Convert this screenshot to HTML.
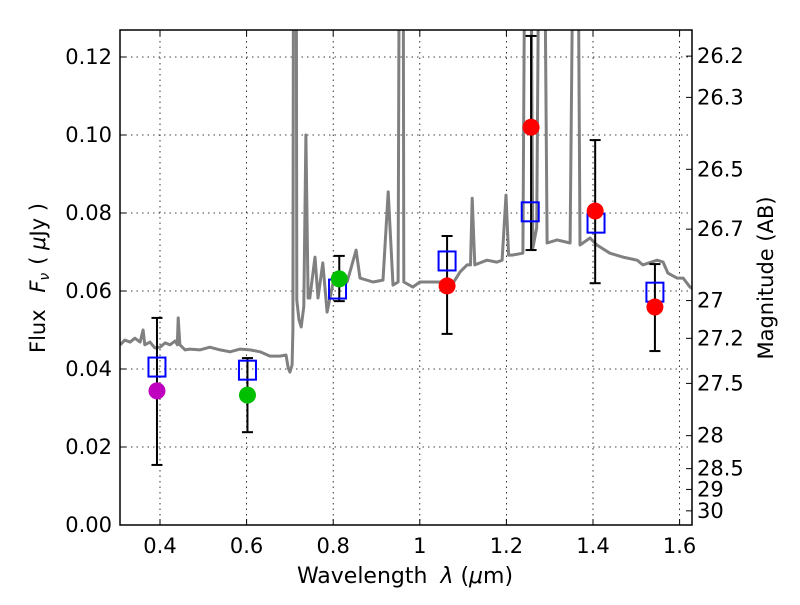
<!DOCTYPE html>
<html><head><meta charset="utf-8"><style>
html,body{margin:0;padding:0;background:#fff;}
svg text{font-family:"DejaVu Sans","Liberation Sans",sans-serif;fill:#000;}
</style></head><body>
<svg id="chart" width="800" height="600" xmlns="http://www.w3.org/2000/svg">
<defs><clipPath id="clip"><rect x="120" y="30" width="572" height="495"/></clipPath></defs>
<rect x="0" y="0" width="800" height="600" fill="#fff"/>
<g id="grid"></g>
<g id="spec" clip-path="url(#clip)"></g>
<g id="marks"></g>
<rect x="120" y="30" width="572" height="495" fill="none" stroke="#000" stroke-width="1.5"/>
<g id="axes"></g>
<text x="405" y="583" font-size="22" text-anchor="middle">Wavelength  <tspan font-style="italic" dx="6">λ</tspan> (<tspan font-style="italic">μ</tspan>m)</text>
<text transform="translate(45,278) rotate(-90)" font-size="21" text-anchor="middle">Flux <tspan font-style="italic" dx="10">F</tspan><tspan font-style="italic" font-size="14" dy="4">ν</tspan><tspan dy="-4" dx="8">(  </tspan><tspan font-style="italic">μ</tspan>Jy )</text>
<text transform="translate(773,278) rotate(-90)" font-size="21" text-anchor="middle">Magnitude (AB)</text>
</svg>
<script>
const specLam=[0.308,0.319,0.331,0.342,0.354,0.361,0.365,0.377,0.388,0.400,0.412,0.423,0.435,0.440,0.442,0.446,0.458,0.469,0.492,0.515,0.539,0.562,0.585,0.608,0.631,0.654,0.677,0.691,0.696,0.700,0.705,0.707,0.709,0.714,0.716,0.721,0.726,0.732,0.737,0.742,0.746,0.758,0.765,0.776,0.786,0.800,0.832,0.853,0.862,0.892,0.915,0.927,0.938,0.950,0.954,0.961,0.963,0.984,1.000,1.024,1.047,1.074,1.093,1.109,1.117,1.121,1.127,1.139,1.155,1.178,1.190,1.199,1.205,1.213,1.238,1.245,1.254,1.261,1.270,1.278,1.285,1.294,1.317,1.347,1.358,1.363,1.370,1.393,1.409,1.439,1.469,1.502,1.515,1.548,1.562,1.573,1.594,1.608,1.624,1.640];
const specFlux=[0.0462,0.0474,0.0469,0.0479,0.0469,0.0500,0.0462,0.0469,0.0454,0.0456,0.0467,0.0462,0.0472,0.0462,0.0531,0.0462,0.0449,0.0451,0.0449,0.0456,0.0449,0.0444,0.0451,0.0449,0.0444,0.0433,0.0433,0.0436,0.0403,0.0392,0.0410,0.0500,0.2,0.2,0.0577,0.0526,0.0508,0.0560,0.1000,0.0582,0.0582,0.0687,0.0582,0.0672,0.0546,0.0623,0.0623,0.0705,0.0633,0.0623,0.0628,0.0854,0.0615,0.0623,0.2,0.2,0.0623,0.0610,0.0623,0.0623,0.0623,0.0615,0.0649,0.0667,0.0667,0.0838,0.0667,0.0672,0.0679,0.0674,0.0679,0.0846,0.0692,0.0692,0.0697,0.2,0.2,0.0710,0.0762,0.2,0.2,0.0723,0.0731,0.0723,0.2,0.2,0.0718,0.0736,0.0718,0.0697,0.0687,0.0679,0.0667,0.0679,0.0674,0.0646,0.0633,0.0633,0.0610,0.0600];
const modelLam=[0.393,0.602,0.810,1.063,1.255,1.407,1.543];
const modelFlux=[0.0405,0.0397,0.0605,0.0677,0.0803,0.0774,0.0597];
const obsLam=[0.393,0.602,0.814,1.063,1.257,1.405,1.543];
const obsFlux=[0.0344,0.0333,0.0631,0.0613,0.1020,0.0805,0.0559];
const errHi=[0.0531,0.0428,0.0690,0.0741,0.1254,0.0987,0.0669];
const errLo=[0.0154,0.0238,0.0574,0.0490,0.0705,0.0620,0.0446];
const obsColor=['#bf00bf','#00bf00','#00bf00','#ff0000','#ff0000','#ff0000','#ff0000'];
const xTicks=[0.4,0.6,0.8,1.0,1.2,1.4,1.6];
const xTickLabels=['0.4','0.6','0.8','1','1.2','1.4','1.6'];
const yTicks=[0,0.02,0.04,0.06,0.08,0.10,0.12];
const yTickLabels=['0.00','0.02','0.04','0.06','0.08','0.10','0.12'];
const magTicks=[26.2,26.3,26.5,26.7,27,27.2,27.5,28,28.5,29,30];
const magLabels=['26.2','26.3','26.5','26.7','27','27.2','27.5','28','28.5','29','30'];
const NS='http://www.w3.org/2000/svg';
const X=l=>160+(l-0.4)*433;
const Y=f=>525-f*3900;
function mk(parent,tag,attrs){const e=document.createElementNS(NS,tag);for(const k in attrs)e.setAttribute(k,attrs[k]);document.getElementById(parent).appendChild(e);return e;}
xTicks.forEach((t,i)=>{
  const g=mk('grid','line',{x1:X(t),x2:X(t),y1:30,y2:525,stroke:'#000','stroke-width':0.8,'stroke-dasharray':'1.5,4'});
  
  
  mk('axes','line',{x1:X(t),x2:X(t),y1:525,y2:519,stroke:'#000','stroke-width':1});
  mk('axes','line',{x1:X(t),x2:X(t),y1:30,y2:36,stroke:'#000','stroke-width':1});
  const tx=mk('axes','text',{x:X(t),y:553,'font-size':21,'text-anchor':'middle'});
  tx.textContent=xTickLabels[i];
  
  
});
yTicks.forEach((t,i)=>{
  const g=mk('grid','line',{x1:120,x2:692,y1:Y(t),y2:Y(t),stroke:'#000','stroke-width':0.8,'stroke-dasharray':'1.5,4'});
  
  
  mk('axes','line',{x1:120,x2:126,y1:Y(t),y2:Y(t),stroke:'#000','stroke-width':1});
  const tx=mk('axes','text',{x:112,y:Y(t)+7,'font-size':21,'text-anchor':'end'});
  tx.textContent=yTickLabels[i];
  
  
});
magTicks.forEach((m,i)=>{
  const f=Math.pow(10,(23.9-m)/2.5);
  mk('axes','line',{x1:686,x2:692,y1:Y(f),y2:Y(f),stroke:'#000','stroke-width':1});
  const tx=mk('axes','text',{x:697,y:Y(f)+7,'font-size':21});
  tx.textContent=magLabels[i];
  
  
});
const pts=specLam.map((l,i)=>X(l).toFixed(1)+','+Y(specFlux[i]).toFixed(1)).join(' ');
const sp=mk('spec','polyline',{points:pts,fill:'none',stroke:'#808080','stroke-width':3,'stroke-linejoin':'round'});


obsLam.forEach((l,i)=>{
  const x=X(l);
  const e=mk('marks','line',{x1:x,x2:x,y1:Y(errHi[i]),y2:Y(errLo[i]),stroke:'#000','stroke-width':2});
  
  
  mk('marks','line',{x1:x-5.5,x2:x+5.5,y1:Y(errHi[i]),y2:Y(errHi[i]),stroke:'#000','stroke-width':2});
  mk('marks','line',{x1:x-5.5,x2:x+5.5,y1:Y(errLo[i]),y2:Y(errLo[i]),stroke:'#000','stroke-width':2});
});
modelLam.forEach((l,i)=>{
  const r=mk('marks','rect',{x:X(l)-8.5,y:Y(modelFlux[i])-9.5,width:17,height:19,fill:'none',stroke:'#0000ff','stroke-width':2});
  
  
});
obsLam.forEach((l,i)=>{
  const c=mk('marks','circle',{cx:X(l),cy:Y(obsFlux[i]),r:8.5,fill:obsColor[i]});
  
  
});
</script>
</body></html>
